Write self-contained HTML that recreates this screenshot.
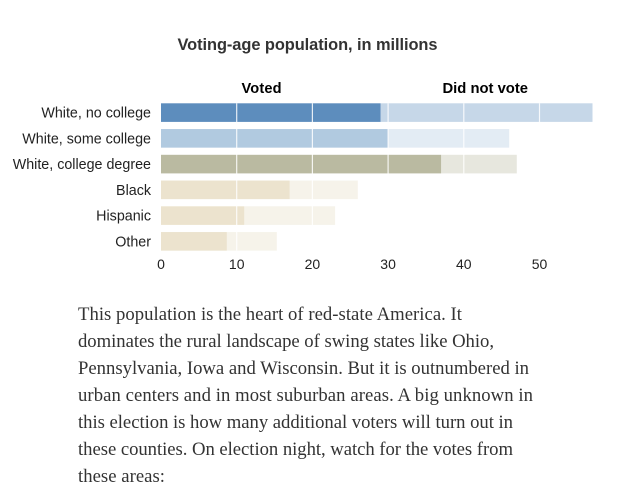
<!DOCTYPE html>
<html><head><meta charset="utf-8">
<style>
html,body{margin:0;padding:0;background:#fff;width:638px;height:498px;overflow:hidden}
svg{display:block}
.sans{font-family:"Liberation Sans",sans-serif}
.body-line{font-family:"Liberation Serif",serif;font-size:18.7px;fill:#333}
</style></head>
<body>
<svg id="chart" width="638" height="498" viewBox="0 0 638 498">
<text class="sans" x="177.5" y="50" textLength="260" font-size="16.4" font-weight="700" fill="#333">Voting-age population, in millions</text>
<text class="sans" x="241.5" y="93" textLength="40" font-size="14.6" font-weight="700" fill="#000">Voted</text>
<text class="sans" x="442.5" y="93" textLength="85.5" font-size="14.8" font-weight="700" fill="#000">Did not vote</text>
<g id="bars"></g>
<g id="grid"></g>
<g id="labels"></g>
<g id="ticks"></g>
<g>
<text class="body-line" x="78" y="320" textLength="384">This population is the heart of red-state America. It</text>
<text class="body-line" x="78" y="347" textLength="416">dominates the rural landscape of swing states like Ohio,</text>
<text class="body-line" x="78" y="374" textLength="451">Pennsylvania, Iowa and Wisconsin. But it is outnumbered in</text>
<text class="body-line" x="78" y="401" textLength="455">urban centers and in most suburban areas. A big unknown in</text>
<text class="body-line" x="78" y="428" textLength="435">this election is how many additional voters will turn out in</text>
<text class="body-line" x="78" y="455" textLength="435">these counties. On election night, watch for the votes from</text>
<text class="body-line" x="78" y="482" textLength="87">these areas:</text>
</g>
</svg>
<script>
const categories = ["White, no college","White, some college","White, college degree","Black","Hispanic","Other"];
const voted = [29,30,37,17,11,8.7];
const didNotVote = [28,16,10,9,12,6.6];
const tickValues = [0,10,20,30,40,50];
const votedColors = ["#5d8dbd","#b1cae0","#babaa1","#ece3ce","#ece3ce","#ece3ce"];
const restColors = ["#c6d7e8","#e3ecf4","#e7e7de","#f6f3ea","#f6f3ea","#f6f3ea"];

const NS = "http://www.w3.org/2000/svg";
const x0 = 161, pxPerUnit = 7.57, rowTop = 103.3, rowStep = 25.75, barH = 18.6;
const xScale = v => x0 + v * pxPerUnit;
const yScale = i => rowTop + i * rowStep;
const maxRowBottom = yScale(categories.length - 1) + barH;
function make(tag, attrs, parent, text) {
  const el = document.createElementNS(NS, tag);
  for (const k in attrs) el.setAttribute(k, attrs[k]);
  if (text !== undefined) el.textContent = text;
  parent.appendChild(el);
  return el;
}
const barsG = document.getElementById("bars");
const labelsG = document.getElementById("labels");
const gridG = document.getElementById("grid");
const ticksG = document.getElementById("ticks");
categories.forEach((c, i) => {
  const y = yScale(i);
  const rest = make("rect", {x: xScale(voted[i]), y: y, width: didNotVote[i] * pxPerUnit, height: barH, fill: restColors[i]}, barsG);
  
  
  const v = make("rect", {x: xScale(0), y: y, width: voted[i] * pxPerUnit, height: barH, fill: votedColors[i]}, barsG);
  
  
  const t = make("text", {x: 151, y: y + 14.2, "text-anchor": "end", "font-size": 14.3, fill: "#222", class: "sans"}, labelsG, c);
  
  
});
tickValues.forEach(v => {
  if (v > 0) {
    const l = make("line", {x1: xScale(v), x2: xScale(v), y1: rowTop, y2: maxRowBottom, stroke: "#fff", "stroke-opacity": 0.85, "stroke-width": 1.2}, gridG);
    
    
  }
  const t = make("text", {x: xScale(v), y: 269, "text-anchor": "middle", "font-size": 14, fill: "#222", class: "sans"}, ticksG, String(v));
  
  
});
</script>
</body></html>
